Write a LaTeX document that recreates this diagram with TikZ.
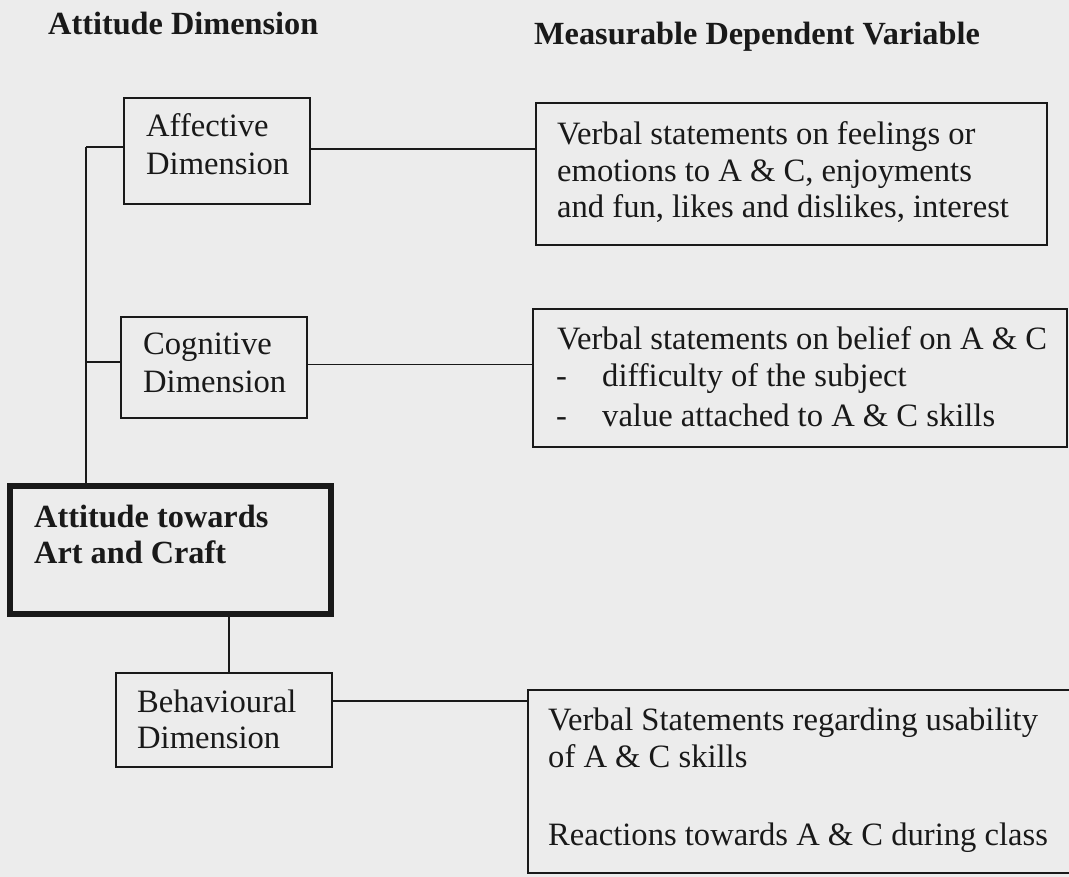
\documentclass[tikz,border=0pt]{standalone}
\usepackage{fontspec}
\setmainfont{Liberation Serif}
\definecolor{bgpaper}{RGB}{236,236,236}
\definecolor{ink}{RGB}{25,25,25}
\begin{document}
\begin{tikzpicture}[x=1pt,y=-1pt,
  box/.style={draw=ink, line width=1.8pt, rectangle, inner sep=0pt},
  bigbox/.style={draw=ink, line width=5.5pt, rectangle, inner sep=0pt},
  conn/.style={draw=ink, line width=1.8pt},
  txt/.style={anchor=base west, inner sep=0pt, text=ink, font=\fontsize{32.6}{36}\selectfont},
  ttl/.style={anchor=base west, inner sep=0pt, text=ink, font=\fontsize{32.3}{36}\selectfont\bfseries}]
\fill[bgpaper] (0,0) rectangle (1069,877);
\useasboundingbox (0,0) rectangle (1069,877);
\clip (0,0) rectangle (1069,877);
% titles
\node[ttl] (t1) at (48,35) {Attitude Dimension};
\node[ttl] (t2) at (534,45) {Measurable Dependent Variable};
% left boxes
\node[box, minimum width=186pt, minimum height=106pt] (aff) at (217,151) {};
\node[box, minimum width=186pt, minimum height=101pt] (cog) at (214,367.5) {};
\node[bigbox, minimum width=321pt, minimum height=128pt] (att) at (170.5,550) {};
\node[box, minimum width=216pt, minimum height=94pt] (beh) at (224,720) {};
% right boxes
\node[box, minimum width=511pt, minimum height=142pt] (v1) at (791.5,174) {};
\node[box, minimum width=534pt, minimum height=138pt] (v2) at (800,378) {};
\node[box, minimum width=547pt, minimum height=183pt] (v3) at (801.5,781.5) {};
% texts in left boxes
\node[txt] (a1) at (146,137) {Affective};
\node[txt] (a2) at (146,175) {Dimension};
\node[txt] (c1) at (143,355) {Cognitive};
\node[txt] (c2) at (143,393) {Dimension};
\node[ttl] (at1) at (34,527) {Attitude towards};
\node[ttl] (at2) at (34,563) {Art and Craft};
\node[txt] (b1) at (137,712) {Behavioural};
\node[txt] (b2) at (137,748) {Dimension};
% texts in right boxes
\node[txt] (p1) at (557,145) {Verbal statements on feelings or};
\node[txt] (p2) at (557,182) {emotions to A \& C, enjoyments};
\node[txt] (p3) at (557,218) {and fun, likes and dislikes, interest};
\node[txt] (q1) at (557,350) {Verbal statements on belief on A \& C};
\node[txt] (qd1) at (556,387) {-};
\node[txt] (q2) at (602,387) {difficulty of the subject};
\node[txt] (qd2) at (556,427) {-};
\node[txt] (q3) at (602,427) {value attached to A \& C skills};
\node[txt] (r1) at (548,730) {Verbal Statements regarding usability};
\node[txt] (r2) at (548,767) {of A \& C skills};
\node[txt] (r3) at (548,845) {Reactions towards A \& C during class};
% connectors
\coordinate (k1) at (86,147);
\coordinate (k2) at (86,362);
\draw[conn] (k1) -- (k1 -| aff.west);
\draw[conn] (k2) -- (k2 -| cog.west);
\draw[conn] (k1) -- (k1 |- att.north);
\draw[conn] ([yshift=2pt]aff.east) -- ([yshift=2pt]aff.east -| v1.west);
\draw[conn] ([yshift=3pt]cog.east) -- ([yshift=3pt]cog.east -| v2.west);
\draw[conn] ([yshift=19pt]beh.east) -- ([yshift=19pt]beh.east -| v3.west);
\draw[conn] ([xshift=5pt]beh.north) -- ([xshift=5pt]beh.north |- att.south);
\end{tikzpicture}
\end{document}
